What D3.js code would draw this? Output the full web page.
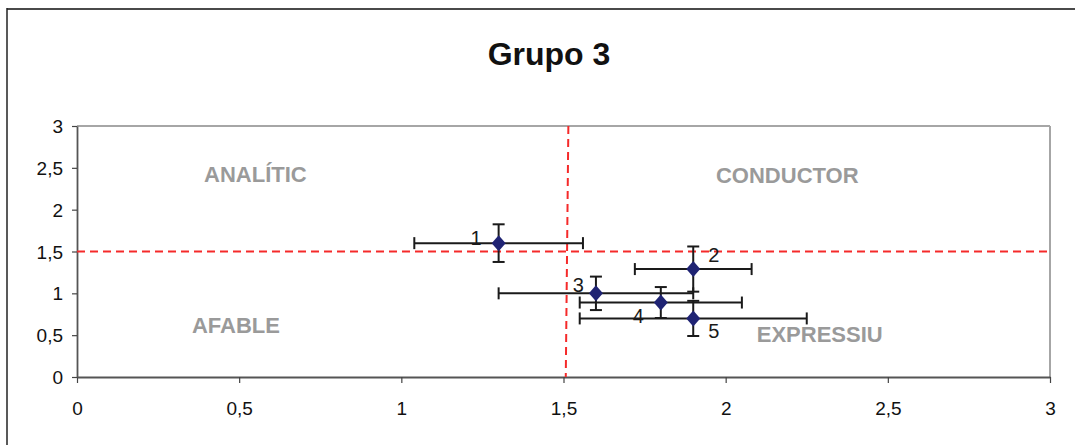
<!DOCTYPE html>
<html>
<head>
<meta charset="utf-8">
<script src="https://cdn.jsdelivr.net/npm/d3@7"></script>
<style>
  html, body { margin: 0; padding: 0; background: #fff; }
  svg { display: block; }
  text { font-family: "Liberation Sans", Arial, sans-serif; }
</style>
</head>
<body>
<svg id="chart" width="1075" height="445"></svg>
<script>
// ---- data ----
const title = "Grupo 3";
const pointLabels = ["1", "2", "3", "4", "5"];
const xValues = [1.30, 1.90, 1.60, 1.80, 1.90];
const yValues = [1.60, 1.29, 1.00, 0.89, 0.70];
const xErrors = [0.26, 0.18, 0.30, 0.25, 0.35];
const yErrors = [0.225, 0.27, 0.20, 0.185, 0.21];
const xTicks = [0, 0.5, 1, 1.5, 2, 2.5, 3];
const yTicks = [0, 0.5, 1, 1.5, 2, 2.5, 3];
const quadrantNames = ["ANALÍTIC", "CONDUCTOR", "AFABLE", "EXPRESSIU"];
const quadrantX = [0.55, 2.19, 0.49, 2.29];
const quadrantY = [2.33, 2.32, 0.53, 0.42];
const refLineX = [1.515, 1.507];   // vertical dashed line (top, bottom)
const refLineY = 1.5;              // horizontal dashed line

// ---- layout ----
const svg = d3.select("#chart");
const mLeft = 77, mRight = 1050, mTop = 126, mBottom = 377;
const x = d3.scaleLinear().domain([0, 3]).range([mLeft, mRight]);
const y = d3.scaleLinear().domain([0, 3]).range([mBottom, mTop]);
const fmt = d => String(d).replace(".", ",");

// outer frame
svg.append("line").attr("x1", 7).attr("x2", 1075).attr("y1", 9).attr("y2", 9)
  .attr("stroke", "#4a4a4a").attr("stroke-width", 2);
svg.append("line").attr("x1", 7).attr("x2", 7).attr("y1", 8).attr("y2", 445)
  .attr("stroke", "#222").attr("stroke-width", 1.5);

// title
svg.append("text").attr("x", 549).attr("y", 65).attr("text-anchor", "middle")
  .attr("font-size", 32).attr("font-weight", "bold").attr("fill", "#111").text(title);

// plot frame top/right
svg.append("line").attr("x1", x(0)).attr("x2", x(3)).attr("y1", y(3)).attr("y2", y(3))
  .attr("stroke", "#a6a6a6").attr("stroke-width", 2);
svg.append("line").attr("x1", x(3)).attr("x2", x(3)).attr("y1", y(3)).attr("y2", y(0))
  .attr("stroke", "#a6a6a6").attr("stroke-width", 2);

// axes
const xAxis = svg.append("g").attr("transform", `translate(0,${mBottom})`)
  .call(d3.axisBottom(x).tickValues(xTicks).tickFormat(fmt).tickSize(6).tickSizeOuter(0));
const yAxis = svg.append("g").attr("transform", `translate(${mLeft},0)`)
  .call(d3.axisLeft(y).tickValues(yTicks).tickFormat(fmt).tickSize(5).tickSizeOuter(0));
[xAxis, yAxis].forEach(a => {
  a.select(".domain").attr("stroke", "#555").attr("stroke-width", 1.8);
  a.selectAll(".tick line").attr("stroke", "#444").attr("stroke-width", 1.2);
  a.selectAll(".tick text").attr("font-size", 19).attr("fill", "#111")
    .attr("font-family", '"Liberation Sans", Arial, sans-serif');
});
xAxis.selectAll(".tick text").attr("dy", null).attr("y", 38);
yAxis.selectAll(".tick text").attr("x", -14).attr("dy", "0.35em");

// quadrant labels
svg.append("g").selectAll("text").data(quadrantNames).join("text")
  .attr("x", (d, i) => x(quadrantX[i])).attr("y", (d, i) => y(quadrantY[i]))
  .attr("text-anchor", "middle").attr("font-size", 22).attr("font-weight", "bold")
  .attr("fill", "#9a9a9a").text(d => d);

// reference dashed lines
svg.append("line").attr("x1", x(0)).attr("x2", x(3)).attr("y1", y(refLineY)).attr("y2", y(refLineY))
  .attr("stroke", "#f52a2a").attr("stroke-width", 2).attr("stroke-dasharray", "8,5");
svg.append("line").attr("x1", x(refLineX[0])).attr("x2", x(refLineX[1])).attr("y1", y(3)).attr("y2", y(0))
  .attr("stroke", "#f52a2a").attr("stroke-width", 2).attr("stroke-dasharray", "8,5");

// error bars
const pts = pointLabels.map((l, i) => ({ l, x: xValues[i], y: yValues[i], ex: xErrors[i], ey: yErrors[i] }));
const eb = svg.append("g").attr("stroke", "#1a1a1a").attr("stroke-width", 2);
const cap = 6;
pts.forEach(p => {
  eb.append("line").attr("x1", x(p.x - p.ex)).attr("x2", x(p.x + p.ex)).attr("y1", y(p.y)).attr("y2", y(p.y));
  eb.append("line").attr("x1", x(p.x - p.ex)).attr("x2", x(p.x - p.ex)).attr("y1", y(p.y) - cap).attr("y2", y(p.y) + cap);
  eb.append("line").attr("x1", x(p.x + p.ex)).attr("x2", x(p.x + p.ex)).attr("y1", y(p.y) - cap).attr("y2", y(p.y) + cap);
  eb.append("line").attr("x1", x(p.x)).attr("x2", x(p.x)).attr("y1", y(p.y - p.ey)).attr("y2", y(p.y + p.ey));
  eb.append("line").attr("x1", x(p.x) - cap).attr("x2", x(p.x) + cap).attr("y1", y(p.y - p.ey)).attr("y2", y(p.y - p.ey));
  eb.append("line").attr("x1", x(p.x) - cap).attr("x2", x(p.x) + cap).attr("y1", y(p.y + p.ey)).attr("y2", y(p.y + p.ey));
});

// markers
svg.append("g").selectAll("path").data(pts).join("path")
  .attr("transform", d => `translate(${x(d.x)},${y(d.y)})`)
  .attr("d", "M0,-8L7,0L0,8L-7,0Z").attr("fill", "#1f2373");

// point labels
const labelOffsets = [[-17, 2, "end"], [15, -7, "start"], [-12, -1, "end"], [-17, 20, "end"], [15, 20, "start"]];
svg.append("g").selectAll("text").data(pts).join("text")
  .attr("x", (d, i) => x(d.x) + labelOffsets[i][0])
  .attr("y", (d, i) => y(d.y) + labelOffsets[i][1])
  .attr("text-anchor", (d, i) => labelOffsets[i][2])
  .attr("font-size", 20).attr("fill", "#1a1a1a").text(d => d.l);
</script>
</body>
</html>
